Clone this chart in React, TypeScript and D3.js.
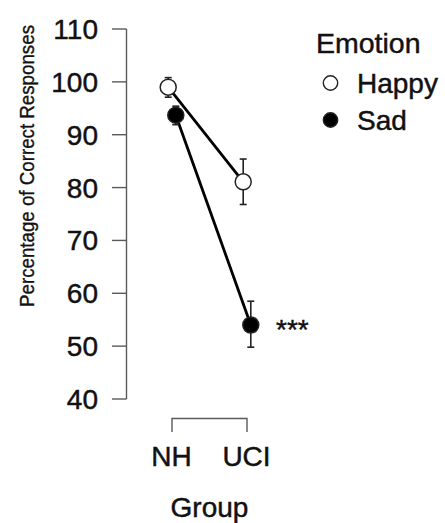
import React from "react";
import * as d3 from "d3";

const groups = ["NH", "UCI"];
const emotions = ["Happy", "Sad"];

const happyMean = [99.0, 81.1];
const happyLow = [97.1, 76.8];
const happyHigh = [100.8, 85.4];

const sadMean = [93.7, 54.0];
const sadLow = [91.9, 49.8];
const sadHigh = [95.4, 58.5];

const yTicks = [40, 50, 60, 70, 80, 90, 100, 110];
const significance = ["", "***"];

const W = 445;
const H = 523;
const FONT = "'Liberation Sans', Arial, Helvetica, sans-serif";
const TEXT = { fill: "#111", stroke: "#111", strokeWidth: 0.45 };

export default function App() {
  const y = d3.scaleLinear().domain([40, 110]).range([399, 29]);
  const x = d3.scalePoint<string>().domain(groups).range([172, 247]);
  const dodge = d3.scalePoint<string>().domain(emotions).range([-3.8, 3.8]);

  const series = [
    { name: "Happy", mean: happyMean, low: happyLow, high: happyHigh, fill: "#ffffff" },
    { name: "Sad", mean: sadMean, low: sadLow, high: sadHigh, fill: "#000000" },
  ];

  const line = d3
    .line<{ g: string; v: number; e: string }>()
    .x((d) => (x(d.g) as number) + (dodge(d.e) as number))
    .y((d) => y(d.v));

  const axisX = 126.5;
  const axisColor = "#5a5a5a";

  return (
    <svg
      width={W}
      height={H}
      style={{ position: "absolute", left: 0, top: 0, background: "#fff" }}
      fontFamily={FONT}
    >
      {/* y axis */}
      <line x1={axisX} x2={axisX} y1={y(40)} y2={y(110)} stroke={axisColor} strokeWidth={1.4} />
      {yTicks.map((t) => (
        <g key={t}>
          <line x1={112} x2={axisX} y1={y(t)} y2={y(t)} stroke={axisColor} strokeWidth={1.4} />
          <text x={98} y={y(t) + 10} textAnchor="end" fontSize={28} {...TEXT}>
            {t}
          </text>
        </g>
      ))}
      <text
        transform={`translate(34, ${(25 + 307) / 2}) rotate(-90)`}
        textAnchor="middle"
        fontSize={20}
        textLength={282}
        lengthAdjust="spacingAndGlyphs"
        {...TEXT}
        strokeWidth={0.35}
      >
        Percentage of Correct Responses
      </text>

      {/* x axis bracket */}
      <path
        d={`M${x("NH")},432 V418.5 H${x("UCI")} V432`}
        fill="none"
        stroke={axisColor}
        strokeWidth={1.4}
      />
      {groups.map((g) => (
        <text key={g} x={(x(g) as number) - 0.5} y={466} textAnchor="middle" fontSize={28} {...TEXT}>
          {g}
        </text>
      ))}
      <text
        x={((x("NH") as number) + (x("UCI") as number)) / 2}
        y={517}
        textAnchor="middle"
        fontSize={28}
        {...TEXT}
      >
        Group
      </text>

      {/* connecting lines */}
      {series.map((s) => (
        <path
          key={s.name + "-line"}
          d={line(groups.map((g, i) => ({ g, v: s.mean[i], e: s.name }))) as string}
          fill="none"
          stroke="#000"
          strokeWidth={2.8}
        />
      ))}

      {/* error bars */}
      {series.map((s) =>
        groups.map((g, i) => {
          const cx = (x(g) as number) + (dodge(s.name) as number);
          return (
            <g key={s.name + g + "-err"} stroke="#222" strokeWidth={1.6}>
              <line x1={cx} x2={cx} y1={y(s.low[i])} y2={y(s.high[i])} />
              <line x1={cx - 3.5} x2={cx + 3.5} y1={y(s.low[i])} y2={y(s.low[i])} />
              <line x1={cx - 3.5} x2={cx + 3.5} y1={y(s.high[i])} y2={y(s.high[i])} />
            </g>
          );
        })
      )}

      {/* points */}
      {series.map((s) =>
        groups.map((g, i) => (
          <circle
            key={s.name + g + "-pt"}
            cx={(x(g) as number) + (dodge(s.name) as number)}
            cy={y(s.mean[i])}
            r={8}
            fill={s.fill}
            stroke="#222"
            strokeWidth={1.5}
          />
        ))
      )}

      {/* significance markers */}
      {groups.map((g, i) =>
        significance[i] ? (
          <text
            key={g + "-sig"}
            x={(x(g) as number) + 29}
            y={y(sadMean[i]) + 14}
            fontSize={28}
            {...TEXT}
          >
            {significance[i]}
          </text>
        ) : null
      )}

      {/* legend */}
      <text x={316} y={52.5} fontSize={28.5} {...TEXT}>
        Emotion
      </text>
      {series.map((s, i) => (
        <g key={s.name + "-legend"}>
          <circle cx={330.5} cy={83 + i * 37} r={7.2} fill={s.fill} stroke="#222" strokeWidth={1.4} />
          <text x={357} y={92.5 + i * 37} fontSize={28} {...TEXT}>
            {s.name}
          </text>
        </g>
      ))}
    </svg>
  );
}
